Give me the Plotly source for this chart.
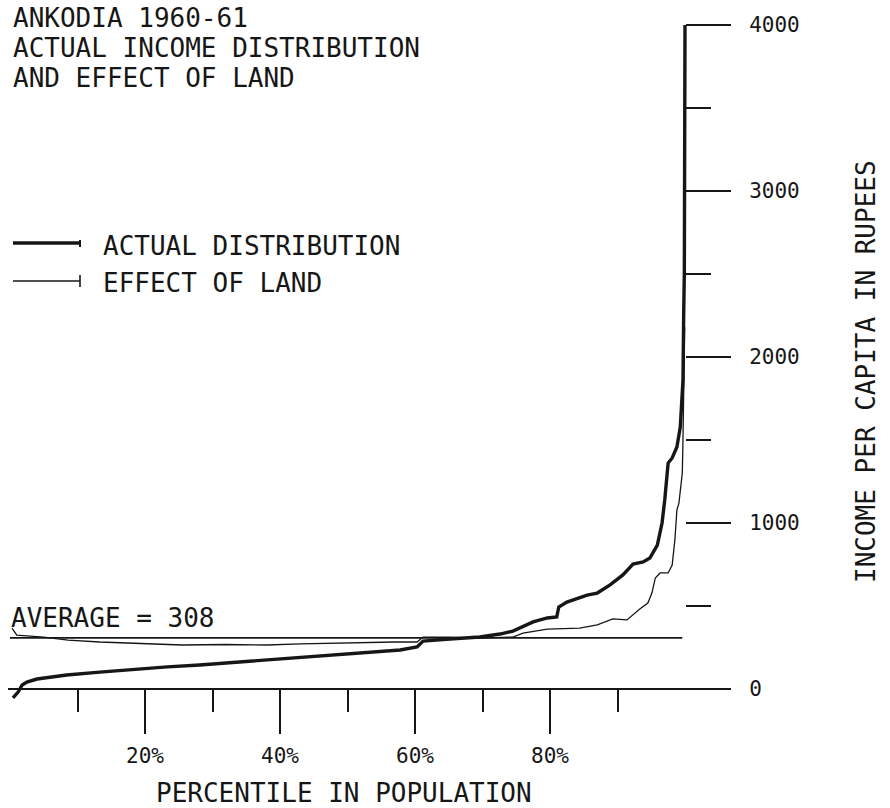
import plotly.graph_objects as go

# ---- data ----
actual_pct = [0.44, 1.2, 1.8, 2.5, 4.0, 8.4, 13.3, 18.5, 23.3, 28.1, 38.1, 47.9, 57.8,
              60.3, 61.2, 65.2, 69.6, 72.6, 74.5, 77.5, 79.6, 81.0, 81.3, 82.5, 85.5,
              87.0, 88.9, 90.8, 92.3, 93.8, 94.8, 95.9, 96.6, 97.0, 97.5, 98.1, 98.8,
              99.3, 99.6, 99.7, 99.8, 99.9, 100.0]
actual_inc = [-54, -18, 24, 42, 60, 84, 102, 120, 133, 145, 175, 205, 235,
              253, 289, 301, 313, 331, 349, 404, 428, 434, 494, 524, 566,
              578, 627, 687, 753, 765, 789, 867, 1000, 1139, 1361, 1392, 1458,
              1578, 1741, 1861, 2241, 2506, 4000]

land_pct = [0.3, 0.7, 1.0, 5.0, 8.6, 13.3, 18.2, 25.5, 32.0, 38.1, 43.0, 47.9, 53.0,
            57.0, 60.3, 61.2, 65.2, 69.6, 74.5, 76.0, 79.6, 84.4, 87.0, 89.3, 91.4,
            92.6, 93.3, 94.5, 95.1, 95.6, 96.3, 97.5, 98.1, 98.5, 98.8, 99.1, 99.6,
            99.7, 99.85, 99.95]
land_inc = [367, 340, 325, 313, 295, 283, 277, 265, 268, 265, 272, 277, 280,
            283, 283, 313, 313, 307, 313, 337, 361, 367, 386, 422, 416,
            458, 482, 518, 578, 669, 699, 699, 747, 898, 1078, 1120, 1301,
            1500, 1940, 2180]

average_value = 308
average_span = [0, 99.6]

x_ticks = [20, 40, 60, 80]
x_ticktext = ["20%", "40%", "60%", "80%"]
x_minor = [10, 30, 50, 70, 90]
y_ticks = [0, 1000, 2000, 3000, 4000]
y_minor = [500, 1500, 2500, 3500]

title_lines = ["ANKODIA 1960-61", "ACTUAL INCOME DISTRIBUTION", "AND EFFECT OF LAND"]
legend_names = ["ACTUAL DISTRIBUTION", "EFFECT OF LAND"]

# ---- layout geometry ----
W, H = 890, 808
ML, MR, MT, MB = 8, 160, 20, 98
PW, PH = W - ML - MR, H - MT - MB
INK = "#161616"
FONT = "DejaVu Sans Mono"


def PX(px):
    return (px - ML) / PW


def PY(py):
    return (H - MB - py) / PH


fig = go.Figure()
fig.add_trace(go.Scatter(x=average_span, y=[average_value] * 2, mode="lines",
                         line=dict(color=INK, width=1.6), showlegend=False, hoverinfo="skip"))
fig.add_trace(go.Scatter(x=land_pct, y=land_inc, mode="lines", name=legend_names[1],
                         line=dict(color=INK, width=1.3), showlegend=False))
fig.add_trace(go.Scatter(x=actual_pct, y=actual_inc, mode="lines", name=legend_names[0],
                         line=dict(color=INK, width=3.4), showlegend=False))

# axis scaling: 0% at px 10, 100% at px 685 ; 0 at py 689, 4000 at py 25
xs = 6.75
ys = (689 - 25) / 4000.0
x0 = -(10 - ML) / xs
x1 = 100 + (ML + PW - 685) / xs
y0 = -((H - MB) - 689) / ys
y1 = 4000 + (25 - MT) / ys

annotations = []
for i, t in enumerate(title_lines):
    annotations.append(dict(text=t, x=PX(11), y=PY(18 + 30 * i), xref="paper", yref="paper",
                            xanchor="left", yanchor="middle", showarrow=False,
                            font=dict(family=FONT, size=26, color=INK)))
annotations.append(dict(text=legend_names[0], x=PX(101), y=PY(246), xref="paper", yref="paper",
                        xanchor="left", yanchor="middle", showarrow=False,
                        font=dict(family=FONT, size=26, color=INK)))
annotations.append(dict(text=legend_names[1], x=PX(101), y=PY(283), xref="paper", yref="paper",
                        xanchor="left", yanchor="middle", showarrow=False,
                        font=dict(family=FONT, size=26, color=INK)))
annotations.append(dict(text="AVERAGE = %d" % average_value, x=PX(9), y=PY(618),
                        xref="paper", yref="paper", xanchor="left", yanchor="middle",
                        showarrow=False, font=dict(family=FONT, size=26, color=INK)))
annotations.append(dict(text="PERCENTILE IN POPULATION", x=PX(344), y=PY(793),
                        xref="paper", yref="paper", xanchor="center", yanchor="middle",
                        showarrow=False, font=dict(family=FONT, size=26, color=INK)))
annotations.append(dict(text="INCOME PER CAPITA IN RUPEES", x=PX(866), y=PY(372),
                        xref="paper", yref="paper", xanchor="center", yanchor="middle",
                        textangle=-90, showarrow=False,
                        font=dict(family=FONT, size=26, color=INK)))

shapes = [
    dict(type="line", xref="paper", yref="paper", x0=PX(13), x1=PX(80), y0=PY(243), y1=PY(243),
         line=dict(color=INK, width=3.5)),
    dict(type="line", xref="paper", yref="paper", x0=PX(80), x1=PX(80), y0=PY(240), y1=PY(247),
         line=dict(color=INK, width=2)),
    dict(type="line", xref="paper", yref="paper", x0=PX(13), x1=PX(80), y0=PY(281), y1=PY(281),
         line=dict(color=INK, width=1.4)),
    dict(type="line", xref="paper", yref="paper", x0=PX(80), x1=PX(80), y0=PY(275), y1=PY(287),
         line=dict(color=INK, width=1.6)),
]

fig.update_layout(
    width=W, height=H, margin=dict(l=ML, r=MR, t=MT, b=MB, autoexpand=False),
    paper_bgcolor="white", plot_bgcolor="white", showlegend=False,
    annotations=annotations, shapes=shapes,
    xaxis=dict(range=[x0, x1], anchor="free", position=PY(689), showgrid=False, zeroline=False,
               showline=True, linecolor=INK, linewidth=2,
               ticks="outside", tickmode="array", tickvals=x_ticks, ticktext=x_ticktext,
               ticklen=44, tickwidth=1.5, tickcolor=INK, ticklabelstandoff=4,
               tickfont=dict(family=FONT, size=21, color=INK),
               minor=dict(tickmode="array", tickvals=x_minor, ticks="outside", ticklen=22,
                          tickwidth=1.5, tickcolor=INK, showgrid=False)),
    yaxis=dict(range=[y0, y1], anchor="free", position=PX(685), side="right", showgrid=False,
               zeroline=False, showline=False,
               ticks="outside", tickmode="array", tickvals=y_ticks,
               ticklen=45, tickwidth=1.5, tickcolor=INK, ticklabelstandoff=14,
               tickfont=dict(family=FONT, size=21, color=INK),
               minor=dict(tickmode="array", tickvals=y_minor, ticks="outside", ticklen=25,
                          tickwidth=1.5, tickcolor=INK, showgrid=False)),
)

fig.write_html("out.html")
